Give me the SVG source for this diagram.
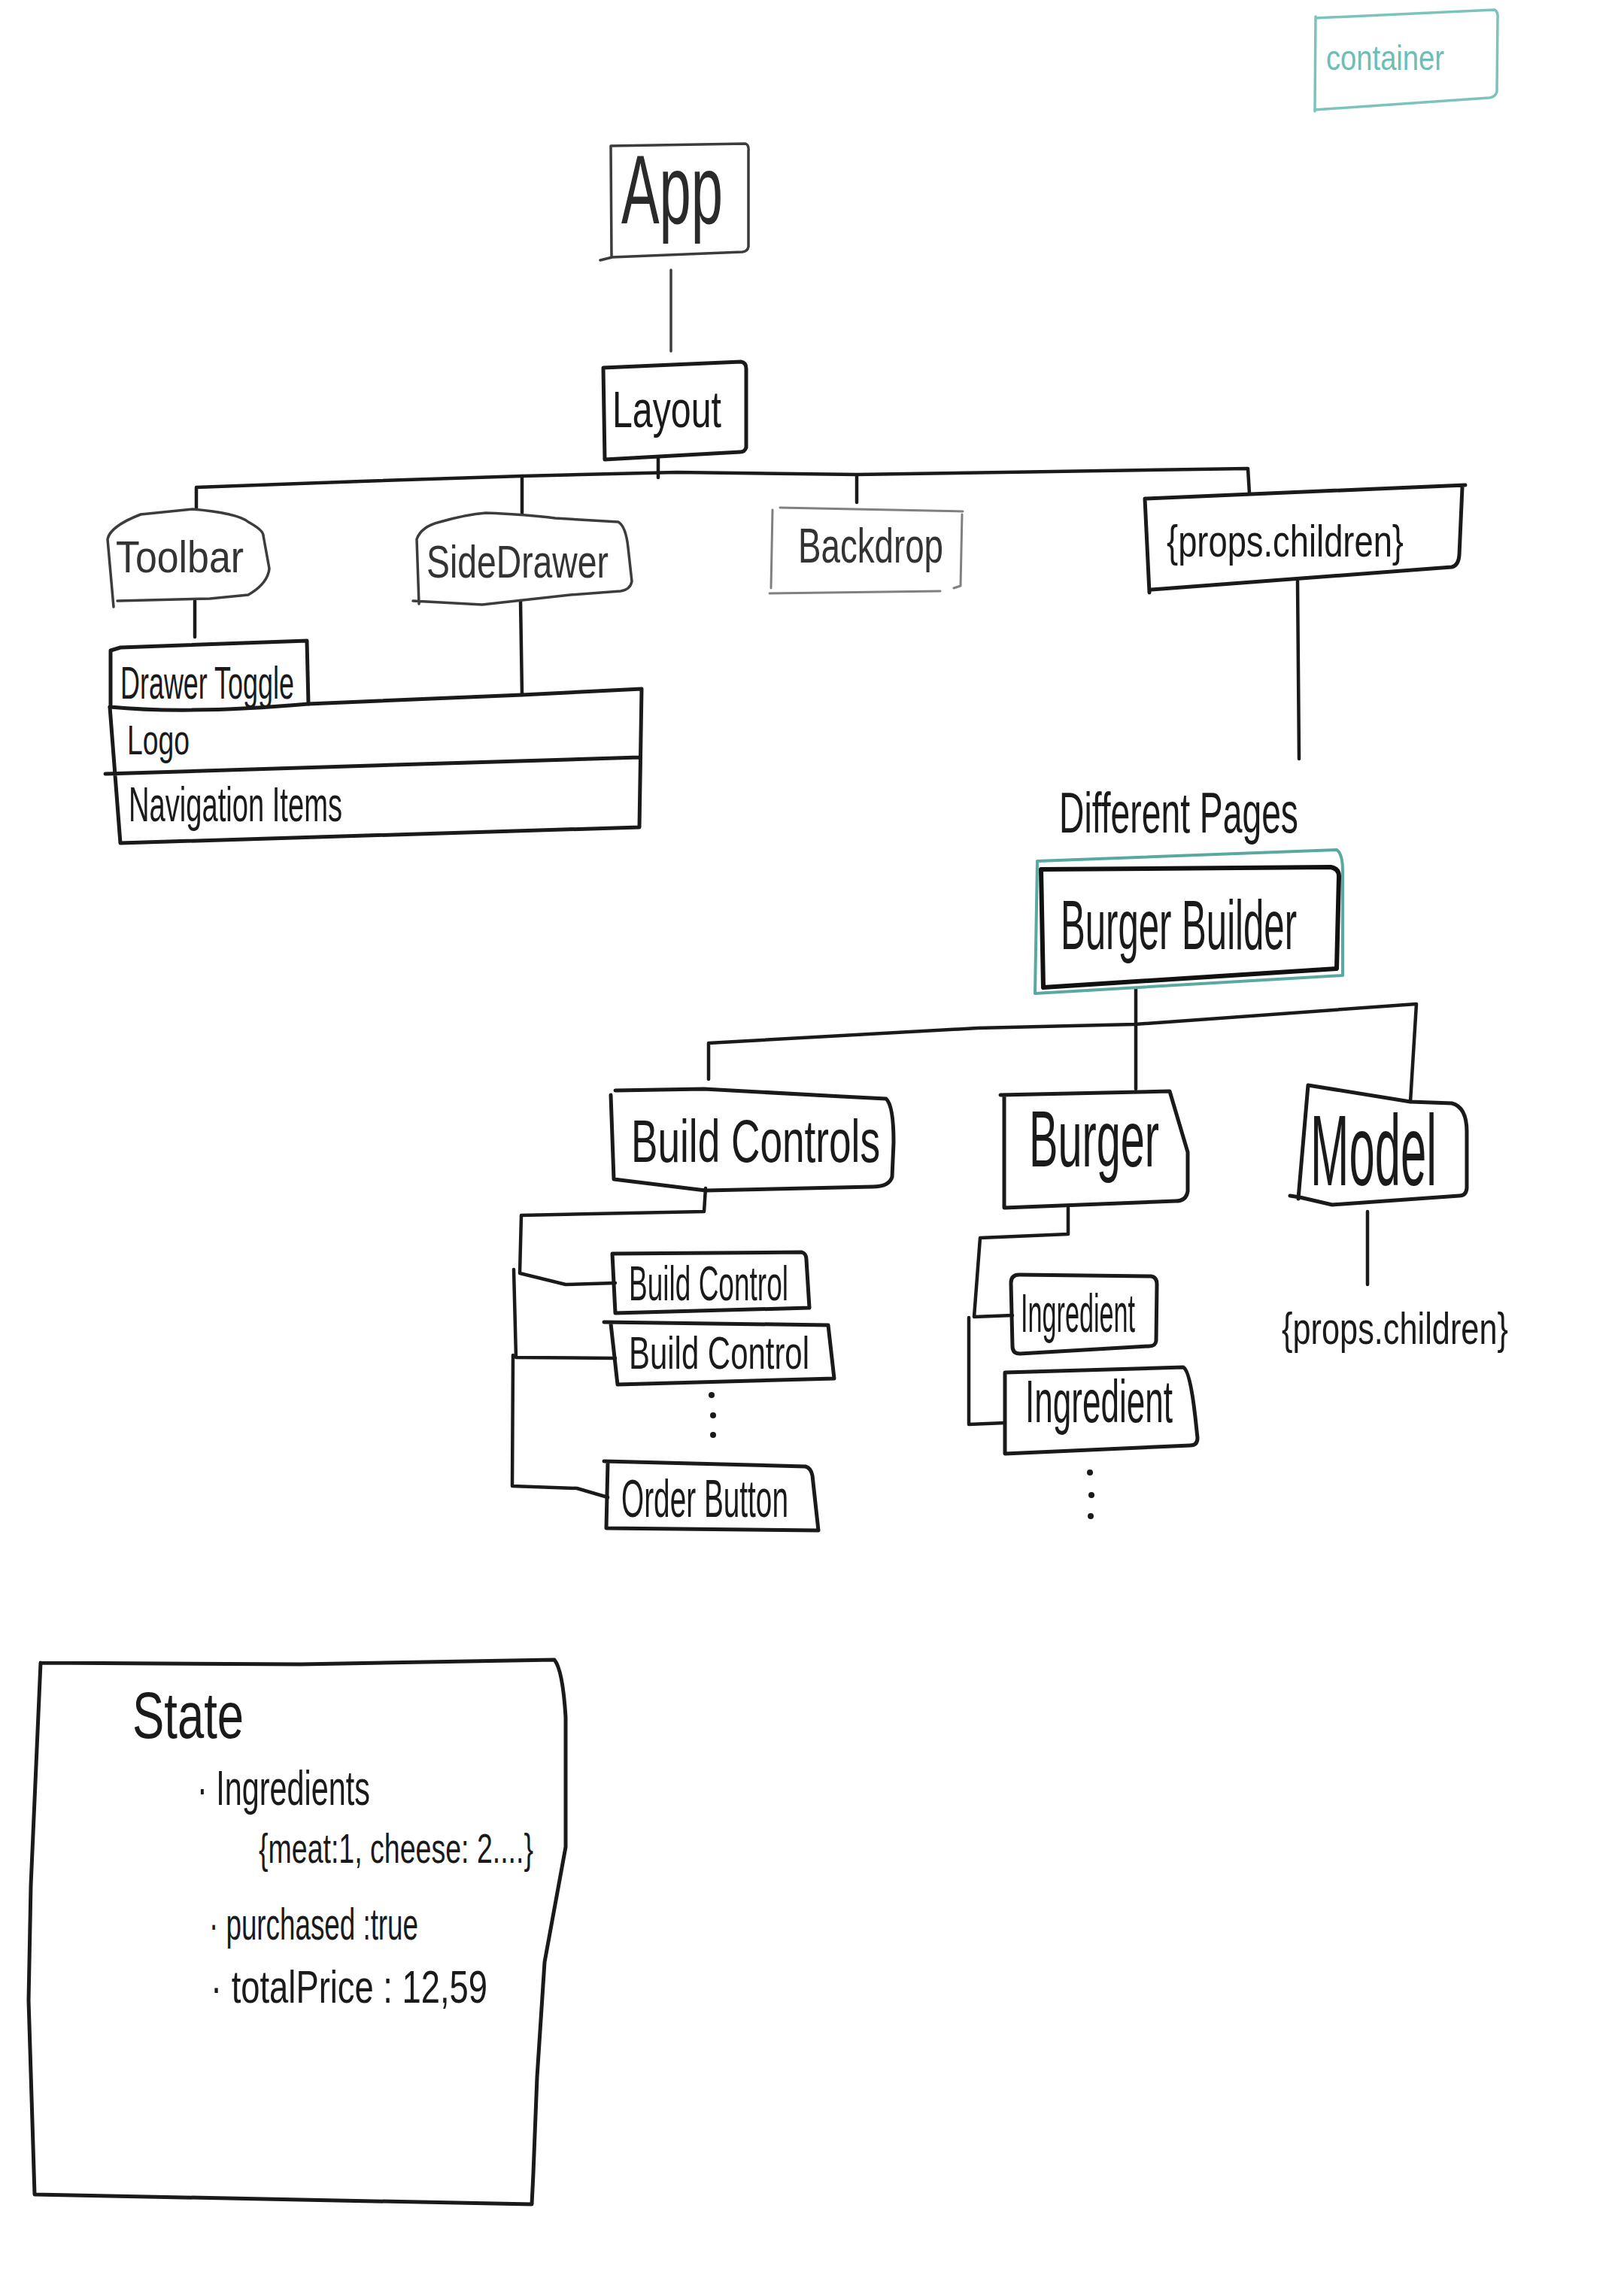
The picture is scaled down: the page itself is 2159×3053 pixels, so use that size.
<svg xmlns="http://www.w3.org/2000/svg" width="2159" height="3053" viewBox="0 0 2159 3053">
<style>
.bg{fill:#ffffff}
.k{fill:none;stroke:#1a1a1a;stroke-width:5;stroke-linecap:round;stroke-linejoin:round}
.kl{fill:none;stroke:#3c3c3c;stroke-width:3.5;stroke-linecap:round;stroke-linejoin:round}
.g{fill:none;stroke:#808080;stroke-width:3;stroke-linecap:round;stroke-linejoin:round}
.tl{fill:none;stroke:#7cc4bb;stroke-width:3.5;stroke-linecap:round;stroke-linejoin:round}
.tk{fill:none;stroke:#5aa9a0;stroke-width:4;stroke-linecap:round;stroke-linejoin:round}
.c{fill:none;stroke:#1a1a1a;stroke-width:4.5;stroke-linecap:round;stroke-linejoin:round}
text{font-family:"Liberation Sans",Arial,sans-serif;fill:#1a1a1a}
.dot{fill:#1a1a1a}
</style>
<rect class="bg" x="0" y="0" width="2159" height="3053"/>

<g id="connectors">
  <path class="kl" d="M892,359 L892,467"/>
  <path class="c" d="M875,608 L875,635"/>
  <path class="c" d="M261,677 L261,648 L480,640 L694,633 L900,628 L1139,631 L1400,627 L1659,623 L1661,656"/>
  <path class="c" d="M694,633 L694,682"/>
  <path class="c" d="M1139,632 L1139,668"/>
  <path class="c" d="M1725,772 L1727,1009"/>
  <path class="c" d="M259,799 L259,847"/>
  <path class="c" d="M692,799 L694,924"/>
  <path class="c" d="M1510,1315 L1510,1448"/>
  <path class="c" d="M942,1435 L942,1387 L1300,1367 L1509,1362 L1883,1335 L1875,1465"/>
  <path class="c" d="M938,1580 L936,1611 L693,1616 L691,1693 L752,1708 L818,1706"/>
  <path class="c" d="M683,1688 L686,1805 L818,1806"/>
  <path class="c" d="M682,1802 L681,1976 L767,1979 L808,1991"/>
  <path class="c" d="M1420,1606 L1420,1641 L1303,1646 L1295,1751 L1346,1749"/>
  <path class="c" d="M1288,1752 L1288,1894 L1336,1892"/>
  <path class="c" d="M1818,1611 L1818,1708"/>
  <circle class="dot" cx="946" cy="1855" r="4"/>
  <circle class="dot" cx="948" cy="1882" r="4"/>
  <circle class="dot" cx="948" cy="1908" r="4"/>
  <circle class="dot" cx="1449" cy="1958" r="4"/>
  <circle class="dot" cx="1451" cy="1988" r="4"/>
  <circle class="dot" cx="1450" cy="2016" r="4"/>
</g>

<g id="legend-container">
  <path class="tl" d="M1749,24 L1987,13 Q1992,16 1991,25 L1990,122 Q1988,129 1980,130 L1748,146 M1749,22 L1748,148"/>
  <text x="1763" y="93" font-size="46" textLength="157" lengthAdjust="spacingAndGlyphs" style="fill:#6fbdb3">container</text>
</g>

<g id="node-app">
  <path class="kl" d="M813,342 L812,194 L991,191 Q996,193 995,201 L995,328 Q994,334 987,335 L814,342 L798,346"/>
  <text x="826" y="297" font-size="130" textLength="135" lengthAdjust="spacingAndGlyphs" style="fill:#2a2a2a">App</text>
</g>

<g id="node-layout">
  <path class="k" d="M802,489 L985,481 Q992,482 992,490 L992,595 Q990,601 984,601 L804,611 Z"/>
  <text x="814" y="568" font-size="68" textLength="145" lengthAdjust="spacingAndGlyphs">Layout</text>
</g>

<g id="node-toolbar">
  <path class="kl" d="M151,807 L143,717 Q146,700 187,684 L256,677 Q315,682 330,694 Q350,705 350,712 L358,756 Q356,776 330,791 L279,796 L156,799"/>
  <text x="154" y="761" font-size="60" textLength="170" lengthAdjust="spacingAndGlyphs" style="fill:#333">Toolbar</text>
</g>

<g id="node-sidedrawer">
  <path class="kl" d="M557,803 L554,717 Q560,700 585,694 Q620,684 646,682 Q700,684 738,689 L822,694 Q832,700 835,728 L840,773 Q838,784 825,786 L758,791 L641,804 L549,799"/>
  <text x="567" y="768" font-size="62" textLength="242" lengthAdjust="spacingAndGlyphs" style="fill:#333">SideDrawer</text>
</g>

<g id="node-backdrop">
  <path class="g" d="M1037,675 L1280,680 M1027,678 L1025,782 M1023,789 L1250,786 M1279,684 L1277,779 L1268,782"/>
  <text x="1061" y="748" font-size="64" textLength="193" lengthAdjust="spacingAndGlyphs" style="fill:#333">Backdrop</text>
</g>

<g id="node-props-children">
  <path class="k" d="M1522,663 L1948,645 M1944,648 L1940,738 Q1939,752 1930,754 L1531,784 M1522,663 L1528,788"/>
  <text x="1551" y="740" font-size="60" textLength="315" lengthAdjust="spacingAndGlyphs">{props.children}</text>
</g>

<g id="node-drawer-toggle">
  <path class="k" d="M147,940 L147,865 L160,861 L408,852 L410,936 M146,940 Q250,950 410,936"/>
  <text x="160" y="929" font-size="62" textLength="231" lengthAdjust="spacingAndGlyphs">Drawer Toggle</text>
</g>

<g id="node-logo-navigation">
  <path class="k" d="M410,936 L694,924 L853,916 L850,1100 L160,1121 L146,940 M140,1029 L850,1007"/>
  <text x="169" y="1003" font-size="56" textLength="83" lengthAdjust="spacingAndGlyphs">Logo</text>
  <text x="171" y="1092" font-size="64" textLength="284" lengthAdjust="spacingAndGlyphs">Navigation Items</text>
</g>

<g id="label-different-pages">
  <text x="1408" y="1107" font-size="76" textLength="318" lengthAdjust="spacingAndGlyphs">Different Pages</text>
</g>

<g id="node-burger-builder">
  <path class="tk" d="M1379,1145 L1777,1130 Q1785,1135 1785,1158 L1785,1297 L1376,1321 Z"/>
  <path class="k" style="stroke-width:6;stroke:#111" d="M1384,1156 L1769,1153 Q1780,1155 1780,1165 L1777,1288 L1387,1313 Z"/>
  <text x="1410" y="1262" font-size="92" textLength="314" lengthAdjust="spacingAndGlyphs">Burger Builder</text>
</g>

<g id="node-build-controls">
  <path class="k" d="M818,1450 L936,1448 L1119,1458 L1178,1461 Q1188,1470 1188,1519 L1186,1565 Q1182,1578 1160,1578 L938,1583 L816,1568 L812,1456"/>
  <text x="839" y="1545" font-size="80" textLength="331" lengthAdjust="spacingAndGlyphs">Build Controls</text>
</g>

<g id="node-burger">
  <path class="k" d="M1330,1456 L1555,1451 L1579,1532 L1579,1584 Q1577,1597 1563,1597 L1335,1606 L1335,1456"/>
  <text x="1368" y="1551" font-size="106" textLength="173" lengthAdjust="spacingAndGlyphs">Burger</text>
</g>

<g id="node-model">
  <path class="k" d="M1739,1443 L1875,1465 L1930,1467 Q1950,1472 1950,1505 L1950,1580 Q1949,1590 1940,1590 L1771,1602 L1728,1592 L1715,1590 M1739,1443 L1726,1594"/>
  <text x="1742" y="1576" font-size="134" textLength="168" lengthAdjust="spacingAndGlyphs">Model</text>
</g>

<g id="label-model-children">
  <text x="1704" y="1787" font-size="60" textLength="301" lengthAdjust="spacingAndGlyphs">{props.children}</text>
</g>

<g id="node-build-control-1">
  <path class="k" d="M814,1667 L1066,1665 Q1072,1667 1072,1675 L1076,1739 L818,1746 Z"/>
  <text x="836" y="1729" font-size="64" textLength="212" lengthAdjust="spacingAndGlyphs">Build Control</text>
</g>

<g id="node-build-control-2">
  <path class="k" d="M803,1758 L1101,1762 L1109,1833 L821,1841 L812,1760"/>
  <text x="836" y="1820" font-size="62" textLength="240" lengthAdjust="spacingAndGlyphs">Build Control</text>
</g>

<g id="node-order-button">
  <path class="k" d="M803,1943 L1071,1950 Q1078,1952 1080,1962 L1088,2035 L806,2032 L808,1945"/>
  <text x="826" y="2017" font-size="70" textLength="222" lengthAdjust="spacingAndGlyphs">Order Button</text>
</g>

<g id="node-ingredient-1">
  <path class="k" d="M1344,1706 Q1344,1695 1355,1695 L1530,1697 Q1538,1698 1538,1708 L1537,1783 Q1536,1790 1528,1790 L1356,1800 Q1346,1800 1346,1790 Z"/>
  <text x="1357" y="1771" font-size="72" textLength="152" lengthAdjust="spacingAndGlyphs">Ingredient</text>
</g>

<g id="node-ingredient-2">
  <path class="k" d="M1336,1825 L1573,1818 Q1582,1822 1589,1884 L1592,1912 Q1592,1922 1582,1922 L1336,1933 Z"/>
  <text x="1363" y="1891" font-size="80" textLength="196" lengthAdjust="spacingAndGlyphs">Ingredient</text>
</g>

<g id="state-box">
  <path class="k" d="M54,2211 L400,2213 L737,2207 Q748,2220 752,2283 L752,2456 L724,2609 L714,2762 L709,2890 L707,2931 L400,2925 L46,2918 L38,2660 L41,2507 L54,2211"/>
  <text x="176" y="2311" font-size="88" textLength="148" lengthAdjust="spacingAndGlyphs">State</text>
  <text x="262" y="2400" font-size="64" textLength="230" lengthAdjust="spacingAndGlyphs">· Ingredients</text>
  <text x="344" y="2477" font-size="56" textLength="365" lengthAdjust="spacingAndGlyphs">{meat:1, cheese: 2....}</text>
  <text x="278" y="2579" font-size="60" textLength="278" lengthAdjust="spacingAndGlyphs">· purchased :true</text>
  <text x="280" y="2663" font-size="62" textLength="368" lengthAdjust="spacingAndGlyphs">· totalPrice : 12,59</text>
</g>
</svg>
